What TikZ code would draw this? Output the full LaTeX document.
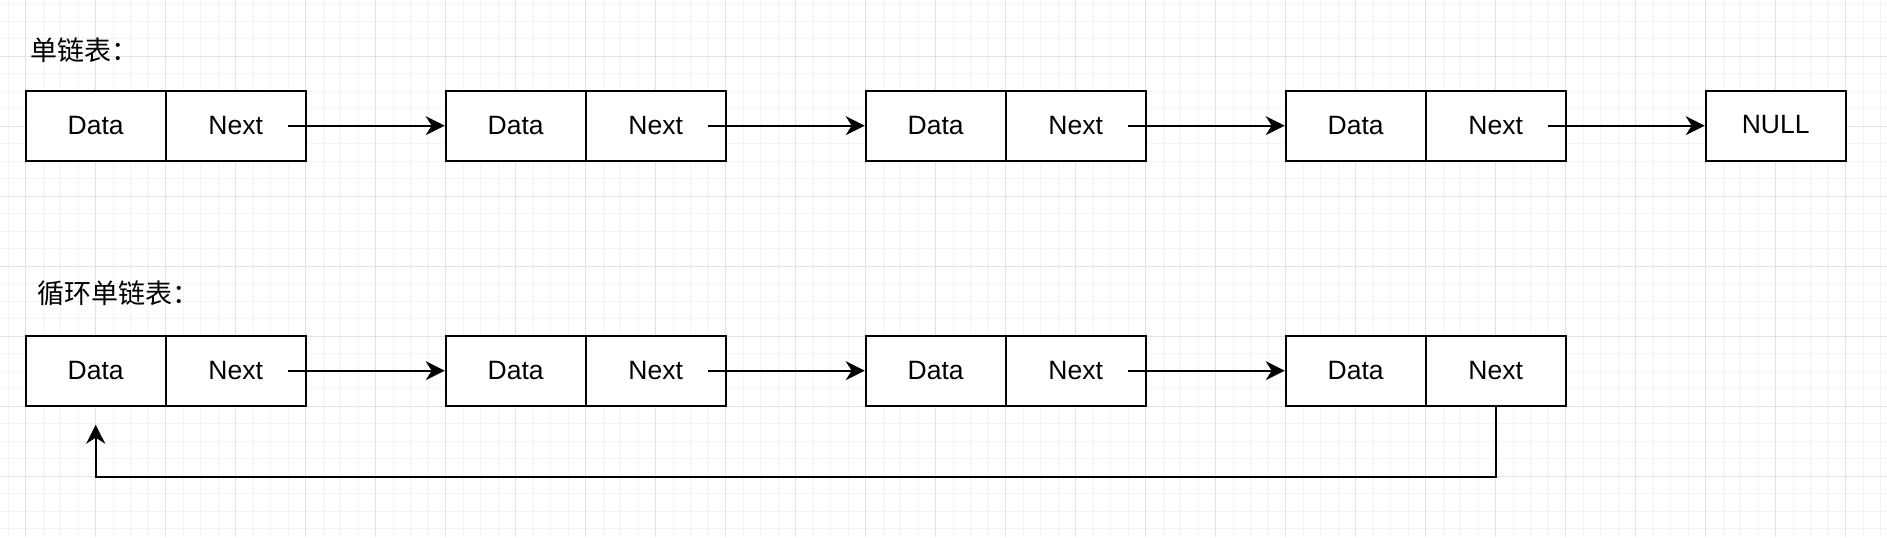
\documentclass[tikz,border=0pt]{standalone}
\usepackage{fontspec}
\setmainfont{Liberation Sans}
\newfontfamily\cjk{Noto Sans CJK SC}
\usetikzlibrary{arrows.meta}
\definecolor{gridminor}{HTML}{F3F3F3}
\definecolor{gridmajor}{HTML}{E2E2E2}

\begin{document}
\begin{tikzpicture}[x=0.5pt,y=-0.5pt,
    cell/.style={draw=black,line width=1pt,fill=white,minimum width=70pt,minimum height=35pt,inner sep=0pt,font=\fontsize{13.25pt}{16pt}\selectfont},
    link/.style={draw,line width=0.9pt,-{Stealth[length=9.5pt,width=9.5pt,inset=3pt]}},
    title/.style={anchor=west,inner sep=0pt,font=\cjk\fontsize{13.5pt}{16pt}\selectfont}]
    \useasboundingbox (0,0) rectangle (1887,537);
    % Grid
    \foreach \i in {0,...,107} \draw[gridminor,line width=0.5pt] (8.2+17.5*\i,0) -- (8.2+17.5*\i,537);
    \foreach \i in {0,...,30} \draw[gridminor,line width=0.5pt] (0,3.8+17.5*\i) -- (1887,3.8+17.5*\i);
    \foreach \i in {0,...,26} \draw[gridmajor,line width=0.5pt] (25.7+70*\i,0) -- (25.7+70*\i,537);
    \foreach \i in {0,...,6} \draw[gridmajor,line width=0.5pt] (0,56.3+70*\i) -- (1887,56.3+70*\i);
    % Titles
    \node[title] (t1) at (30,50) {单链表：};
    \node[title] (t2) at (37,293) {循环单链表：};
    % Nodes, first row
    \node[cell] (d1) at (95.7,125.7) {Data};
    \node[cell] (n1) at (235.7,125.7) {Next};
    \node[cell] (d2) at (515.7,125.7) {Data};
    \node[cell] (n2) at (655.7,125.7) {Next};
    \node[cell] (d3) at (935.7,125.7) {Data};
    \node[cell] (n3) at (1075.7,125.7) {Next};
    \node[cell] (d4) at (1355.7,125.7) {Data};
    \node[cell] (n4) at (1495.7,125.7) {Next};
    \node[cell] (null) at (1775.7,125.7) {\raisebox{1.5pt}{NULL}};
    % Nodes, second row
    \node[cell] (d5) at (95.7,370.7) {Data};
    \node[cell] (n5) at (235.7,370.7) {Next};
    \node[cell] (d6) at (515.7,370.7) {Data};
    \node[cell] (n6) at (655.7,370.7) {Next};
    \node[cell] (d7) at (935.7,370.7) {Data};
    \node[cell] (n7) at (1075.7,370.7) {Next};
    \node[cell] (d8) at (1355.7,370.7) {Data};
    \node[cell] (n8) at (1495.7,370.7) {Next};
    % Edges
    \path[link] ([xshift=26.3pt]n1.center) -- (d2.west);
    \path[link] ([xshift=26.3pt]n2.center) -- (d3.west);
    \path[link] ([xshift=26.3pt]n3.center) -- (d4.west);
    \path[link] ([xshift=26.3pt]n4.center) -- (null.west);
    \path[link] ([xshift=26.3pt]n5.center) -- (d6.west);
    \path[link] ([xshift=26.3pt]n6.center) -- (d7.west);
    \path[link] ([xshift=26.3pt]n7.center) -- (d8.west);
    \path[link] (n8.south) -- ++(0,-35pt) -| ([yshift=-9pt]d5.south);
\end{tikzpicture}
\end{document}
